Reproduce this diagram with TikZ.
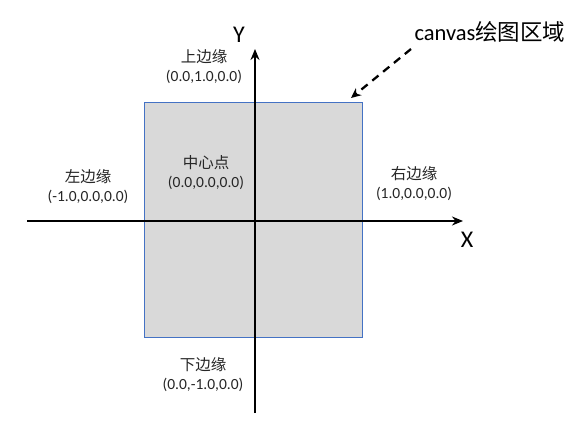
\documentclass[tikz,border=0pt]{standalone}
\usepackage{fontspec}
\setmainfont{Carlito}
\newfontfamily\cjk{Noto Sans CJK SC}
\usetikzlibrary{arrows.meta}
\begin{document}
\begin{tikzpicture}[x=1pt,y=-1pt,
  axis/.style={line width=2.3pt,-{Stealth[length=11pt,width=9pt]}},
  lbl/.style={font=\fontsize{15.5}{17}\selectfont, text=black!85, inner sep=0pt, align=center},
  axlbl/.style={font=\fontsize{24}{26}\selectfont, inner sep=0pt}]
\useasboundingbox (0,0) rectangle (578,427);
\fill[white] (0,0) rectangle (578,427);
\node[draw={rgb,255:red,68;green,114;blue,196}, line width=0.8pt, fill={rgb,255:red,217;green,217;blue,217},
  minimum width=218pt, minimum height=235pt, inner sep=0pt, anchor=north west] (canvas) at (144,102) {};
\coordinate (xs) at (27,221);
\coordinate (xe) at (463,221);
\coordinate (ys) at (255,413);
\coordinate (ye) at (255,49);
\draw[axis] (xs) -- (xe);
\draw[axis] (ys) -- (ye);
\node[axlbl] (Y) at (239,35) {Y};
\node[axlbl] (X) at (467,240) {X};
\node[font=\fontsize{22.5}{24}\selectfont, inner sep=0pt] (title) at (490,32) {canvas{\cjk 绘图区域}};
\coordinate (ta) at (411,49);
\coordinate (tb) at (351,98);
\draw[line width=2.3pt, dash pattern=on 8pt off 6pt, -{Stealth[length=10pt,width=9pt]}] (ta) -- (tb);
\node[lbl] (top) at (204,67) {{\cjk 上边缘}\\[2pt](0.0,1.0,0.0)};
\node[lbl] (ctr) at (206,173) {{\cjk 中心点}\\[2pt](0.0,0.0,0.0)};
\node[lbl] (lft) at (88,187) {{\cjk 左边缘}\\[2pt](-1.0,0.0,0.0)};
\node[lbl] (rgt) at (414,184) {{\cjk 右边缘}\\[2pt](1.0,0.0,0.0)};
\node[lbl] (bot) at (203,375) {{\cjk 下边缘}\\[2pt](0.0,-1.0,0.0)};
\end{tikzpicture}
\end{document}
